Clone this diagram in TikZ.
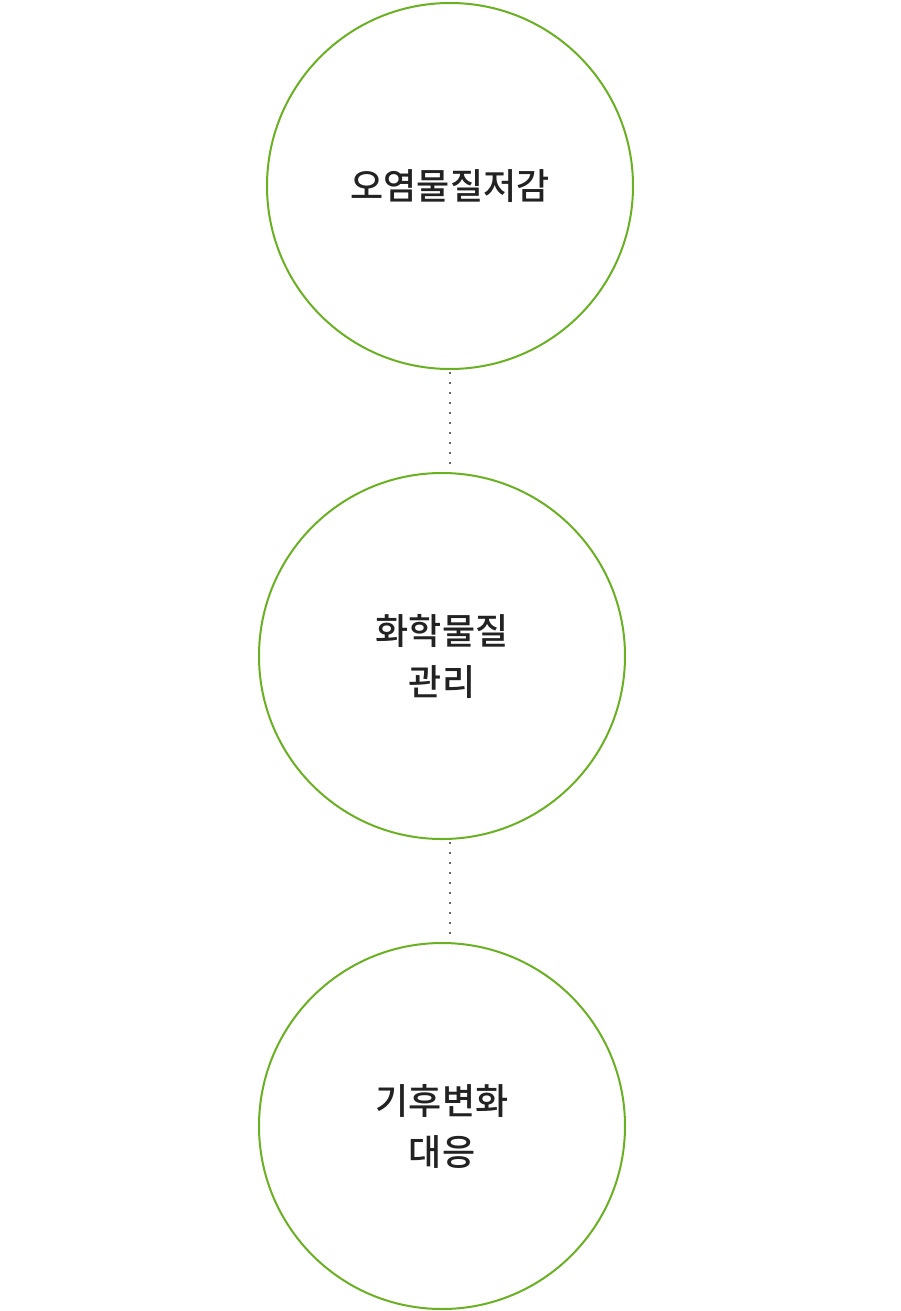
\documentclass[tikz,border=0pt]{standalone}
\usepackage{fontspec}
\newfontfamily\krfont{Noto Sans CJK KR}[UprightFont=* Medium]
\usetikzlibrary{calc}

\definecolor{leafgreen}{HTML}{6AB023}
\definecolor{inkgray}{HTML}{222222}
\definecolor{dotgray}{HTML}{666666}

\tikzset{
 goal/.style={circle, draw=leafgreen, line width=1pt, minimum size=183pt, inner sep=0pt,
   align=center, text=inkgray, font=\krfont\fontsize{18}{25.5}\selectfont},
 link/.style={dotgray, line width=1pt, dash pattern=on 1pt off 4pt, shorten <=1pt, shorten >=3pt}
}

\begin{document}
\begin{tikzpicture} [x=0.5pt,y=-0.5pt]
\useasboundingbox (0,0) rectangle (900,1311);
\node[goal] (reduce)  at (450,186)  {오염물질저감};
\node[goal] (chem)    at (442,656)  {화학물질\\관리};
\node[goal] (climate) at (442,1126) {기후변화\\대응};
\draw[link] (reduce.south) -- (reduce.south |- chem.north);
\draw[link] (reduce.south |- chem.south) -- (reduce.south |- climate.north);
\end{tikzpicture}
\end{document}
